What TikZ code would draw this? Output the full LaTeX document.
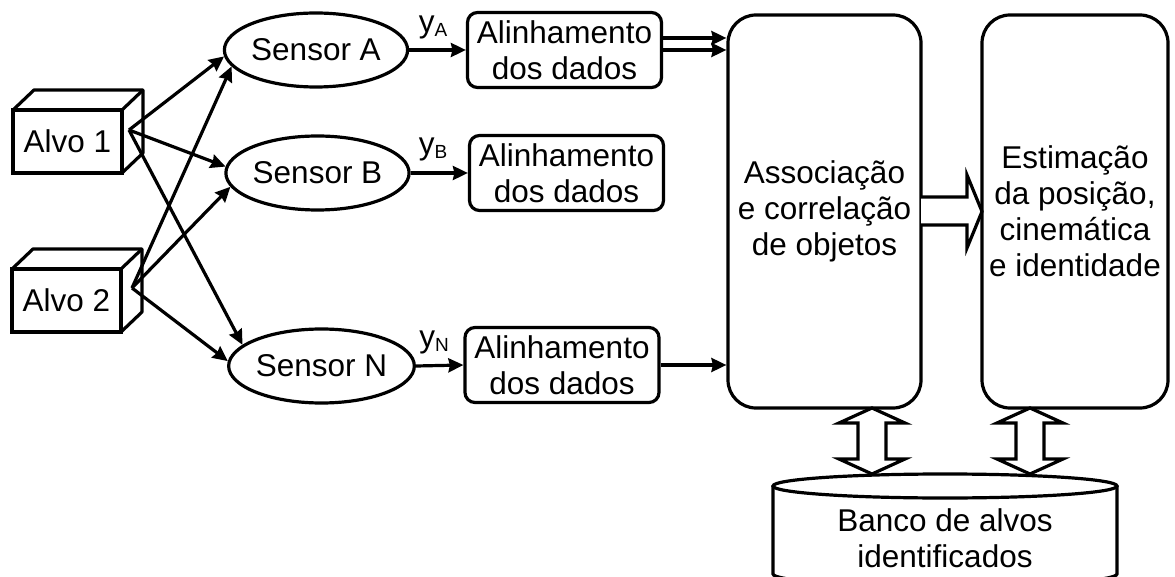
\documentclass[tikz,border=0pt]{standalone}
\usepackage{fontspec}
\setmainfont{Liberation Sans}
\usetikzlibrary{arrows.meta,shapes.geometric}
\begin{document}
\begin{tikzpicture}[x=1pt,y=-1pt,
  lw/.style={line width=3.2pt},
  txt/.style={font=\fontsize{31.5}{36}\selectfont, align=center, inner sep=0pt},
  cubeface/.style={lw, draw, fill=white, outer sep=0pt, minimum width=109pt, minimum height=63pt, txt},
  sensor/.style={lw, draw, ellipse, minimum width=155pt, minimum height=74pt, txt},
  alinh/.style={lw, draw, rounded corners=10pt, minimum width=194pt, minimum height=75pt, txt},
  bigbox/.style={lw, draw, rounded corners=28pt, minimum height=393pt, txt},
  conn/.style={lw, -{Stealth[length=15pt,width=14pt,inset=1.5pt]}},
  hollow/.style={lw, draw, fill=white, line join=miter},
  sublabel/.style={txt}
]
\useasboundingbox (0,0) rectangle (1175,577);

% targets (cubes)
\node[cubeface] (a1) at (67.5,141.5) {Alvo 1};
\draw[lw, line join=round] (a1.north west) -- ++(21,-20) -- ++(109,0) -- ++(0,63) -- ++(-21,20);
\draw[lw] (a1.north east) -- ++(21,-20);
\node[cubeface] (a2) at (66.5,300.5) {Alvo 2};
\draw[lw, line join=round] (a2.north west) -- ++(21,-20) -- ++(109,0) -- ++(0,63) -- ++(-21,20);
\draw[lw] (a2.north east) -- ++(21,-20);
\coordinate (s1) at (129,130);
\coordinate (s2) at (132,288);

% sensors
\node[sensor] (sa) at (316,50) {Sensor A};
\node[sensor] (sb) at (317.5,173) {Sensor B};
\node[sensor] (sn) at (321.5,366) {Sensor N};

\draw[conn] (s1) -- (sa.184);
\draw[conn] (s2) -- (sa.191);
\draw[conn] (s1) -- (sb.176);
\draw[conn] (s2) -- (sb.189);
\draw[conn] (s1) -- (sn.165);
\draw[conn] (s2) -- (sn.177);

% alignment boxes
\node[alinh] (aa) at (564.5,50) {Alinhamento\\dos dados};
\node[alinh] (ab) at (566.5,173) {Alinhamento\\dos dados};
\node[alinh] (an) at (562,365) {Alinhamento\\dos dados};

\draw[conn] (sa.east) -- (aa.west);
\draw[conn] (sb.east) -- (ab.west);
\draw[conn] (sn.east) -- (an.west);

\node[sublabel] (ya) at (433,27) {y\lower4pt\hbox{\fontsize{19}{19}\selectfont A}};
\node[sublabel] (yb) at (433,149) {y\lower4pt\hbox{\fontsize{19}{19}\selectfont B}};
\node[sublabel] (yn) at (434,342) {y\lower4pt\hbox{\fontsize{19}{19}\selectfont N}};

% big boxes
\node[bigbox, minimum width=193pt] (as) at (824.5,211.5) {Associação\\e correlação\\de objetos};
\node[bigbox, minimum width=186pt] (es) at (1075,211.5) {Estimação\\da posição,\\cinemática\\e identidade};

\coordinate (d1) at ([yshift=12pt]aa.east);
\draw[conn] (d1) -- (d1 -| as.west);
\draw[conn] (aa.east) -- (aa.east -| as.west);
\draw[conn] (an.east) -- (an.east -| as.west);

% hollow arrow between big boxes
\draw[hollow] (921,197) -- (967,197) -- (967,175) -- (982,211.5) -- (967,248) -- (967,225) -- (921,225);

% database cylinder
\draw[lw, fill=white] (773,486) -- (773,574) arc[start angle=180, end angle=360, x radius=172pt, y radius=12pt] -- (1117,486);
\draw[lw, fill=white] (945,486) ellipse[x radius=172pt, y radius=12pt];
\node[txt] (db) at (945,538) {Banco de alvos\\identificados};

% vertical double hollow arrows
\draw[hollow] (872,408) -- (905,423) -- (886,423) -- (886,459) -- (905,459) -- (872,474) -- (839,459) -- (858,459) -- (858,423) -- (839,423) -- cycle;
\draw[hollow] (1030,408) -- (1063,423) -- (1044,423) -- (1044,459) -- (1063,459) -- (1030,474) -- (997,459) -- (1016,459) -- (1016,423) -- (997,423) -- cycle;
\end{tikzpicture}
\end{document}
